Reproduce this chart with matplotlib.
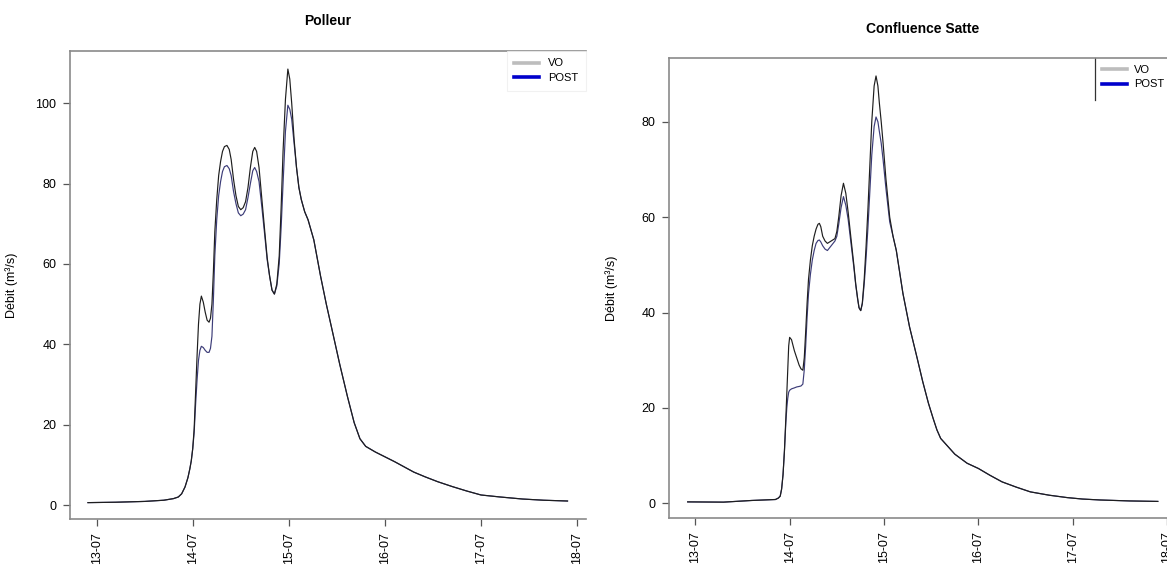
import matplotlib
matplotlib.use("Agg")
import matplotlib.pyplot as plt
from matplotlib.lines import Line2D

plt.rcParams['font.family'] = ['Liberation Sans', 'DejaVu Sans']

# days counted from 13-07 00:00
day_labels = ["13-07", "14-07", "15-07", "16-07", "17-07", "18-07"]

# --- Polleur ---
pol_days = [-0.09, 0.2, 0.5, 0.7, 0.8, 0.85, 0.885, 0.92, 0.95, 0.97, 0.985,
            1.0, 1.015, 1.03, 1.045, 1.06, 1.075, 1.09, 1.11, 1.13, 1.15, 1.17, 1.185,
            1.20, 1.215, 1.23, 1.25, 1.27, 1.29, 1.31, 1.33, 1.356, 1.38, 1.40, 1.425,
            1.45, 1.475, 1.50, 1.525, 1.55, 1.575, 1.60, 1.625, 1.645, 1.665, 1.69, 1.72,
            1.75, 1.775, 1.80, 1.825, 1.85, 1.875, 1.90, 1.92, 1.94, 1.965, 1.99, 2.01,
            2.03, 2.055, 2.08, 2.105, 2.13, 2.165, 2.20, 2.23, 2.26, 2.295, 2.33, 2.39,
            2.45, 2.53, 2.61, 2.68, 2.74, 2.8, 2.9, 3.0, 3.1, 3.2, 3.3, 3.42,
            3.55, 3.7, 3.85, 4.0, 4.2, 4.43, 4.65, 4.9]
pol_vo = [0.6, 0.7, 0.9, 1.2, 1.6, 2.0, 2.8, 4.5, 6.8, 9, 11,
          14, 19, 28, 37, 45, 50, 52, 50.5, 48, 46, 45.5, 46.5,
          50, 58, 68, 76, 82, 85.5, 88, 89.2, 89.5, 88.5, 86, 81,
          77, 74.3, 73.5, 74, 75.5, 79, 84, 88, 89, 88, 84, 76,
          68, 61.5, 57, 53.5, 52.5, 55, 62, 74, 88, 101, 108.5, 106,
          100, 91, 84, 79, 76, 73, 71, 68.5, 66, 61.5, 57, 50,
          43.6, 35, 27, 20.5, 16.5, 14.6, 13.2, 12, 10.8, 9.5, 8.2, 7,
          5.8, 4.6, 3.5, 2.5, 2.0, 1.5, 1.2, 1.0]
pol_post = [0.6, 0.7, 0.9, 1.2, 1.6, 2.0, 2.8, 4.5, 6.8, 9, 11,
            14, 18, 25, 31, 36, 38.5, 39.5, 39.2, 38.5, 38, 38, 39,
            42, 51, 62, 71, 77, 80.5, 83, 84.2, 84.5, 83.7, 82, 78,
            75, 72.7, 72, 72.4, 73.5, 76.5, 80, 83.2, 84, 83, 80.5, 74,
            67, 61, 57, 53.5, 52.5, 54.5, 60, 69, 80, 93, 99.5, 98.5,
            96, 90, 84, 79, 76, 73, 71, 68.5, 66, 61.5, 57, 50,
            43.6, 35, 27, 20.5, 16.5, 14.6, 13.2, 12, 10.8, 9.5, 8.2, 7,
            5.8, 4.6, 3.5, 2.5, 2.0, 1.5, 1.2, 1.0]

# --- Confluence Satte ---
sat_days = [-0.08, 0.3, 0.6, 0.85, 0.88, 0.9, 0.915, 0.93, 0.945, 0.96, 0.97,
            0.98, 0.99, 1.0, 1.02, 1.05, 1.075, 1.10, 1.12, 1.14, 1.155, 1.17, 1.185,
            1.20, 1.22, 1.24, 1.26, 1.28, 1.30, 1.315, 1.33, 1.35, 1.375, 1.40, 1.44,
            1.48, 1.50, 1.52, 1.545, 1.57, 1.595, 1.62, 1.65, 1.68, 1.70, 1.72, 1.735,
            1.753, 1.77, 1.79, 1.81, 1.83, 1.85, 1.87, 1.895, 1.915, 1.935, 1.95, 1.97,
            1.99, 2.02, 2.06, 2.095, 2.13, 2.165, 2.2, 2.27, 2.35, 2.41, 2.47, 2.52,
            2.56, 2.60, 2.65, 2.75, 2.88, 3.0, 3.12, 3.25, 3.4, 3.55, 3.75, 3.94,
            4.1, 4.29, 4.6, 4.9]
sat_vo = [0.3, 0.25, 0.6, 0.8, 1.1, 1.5, 3, 6, 11, 18, 23,
          28, 33, 34.8, 34.3, 32, 30.5, 29, 28.2, 27.9, 30.5, 36, 42,
          47, 51, 54, 56, 57.5, 58.5, 58.7, 58, 56, 55, 54.5, 55,
          55.5, 57, 60, 64.5, 67.1, 65, 61, 55.5, 50, 46, 43, 41,
          40.4, 42, 47, 54, 62, 71, 80, 87.5, 89.6, 87.5, 84, 80,
          75.5, 68, 60, 56, 53, 48.5, 44, 37, 30.5, 25.5, 21, 17.8,
          15.4, 13.6, 12.5, 10.3, 8.4, 7.3, 5.9, 4.5, 3.4, 2.4, 1.7, 1.2,
          0.9, 0.7, 0.5, 0.4]
sat_post = [0.3, 0.25, 0.6, 0.8, 1.1, 1.5, 3, 6, 11, 17, 20,
            22, 23.3, 23.7, 24, 24.2, 24.4, 24.5, 24.6, 25, 28, 33, 39,
            44, 48, 51, 53, 54.5, 55.1, 55.2, 54.8, 54, 53.3, 53, 54,
            55, 56, 58.5, 62, 64.3, 62.5, 59.5, 54.5, 49.5, 45.8, 42.8, 41,
            40.4, 41.8, 46, 51.5, 58, 65.5, 73, 79, 81, 80, 78, 75.5,
            72, 66, 59, 56, 53, 48.5, 44, 37, 30.5, 25.5, 21, 17.8,
            15.4, 13.6, 12.5, 10.3, 8.4, 7.3, 5.9, 4.5, 3.4, 2.4, 1.7, 1.2,
            0.9, 0.7, 0.5, 0.4]

W, H = 1167, 565
fig = plt.figure(figsize=(W / 100, H / 100), dpi=100)

def px_axes(left, right, top, bottom):
    return fig.add_axes([left / W, 1 - bottom / H, (right - left) / W, (bottom - top) / H])

ax1 = px_axes(69.6, 585.6, 50.7, 519.3)
ax2 = px_axes(668.8, 1176.7, 58.3, 518.3)

spine_col = '#8a8a8a'
for ax, days, vo, post, title, ylim, xlim in [
        (ax1, pol_days, pol_vo, pol_post, "Polleur", (-3.55, 113.07), (-0.281, 5.088)),
        (ax2, sat_days, sat_vo, sat_post, "Confluence Satte", (-3.14, 93.3), (-0.28, 5.10))]:
    ax.plot(days, post, color='#3c3c78', lw=0.85)
    ax.plot(days, vo, color='#1e1e1e', lw=0.85)
    ax.set_xlim(*xlim)
    ax.set_ylim(*ylim)
    ax.set_xticks(range(len(day_labels)))
    ax.set_xticklabels(day_labels, rotation=90)
    ax.set_yticks(range(0, int(ylim[1]) + 1, 20))
    ax.tick_params(axis='both', direction='out', length=5, width=0.9, color='#555555',
                   labelsize=9, pad=4.5)
    for s in ax.spines.values():
        s.set_color(spine_col)
        s.set_linewidth(1.2)
    ax.spines['right'].set_visible(False)
    ax.set_ylabel("Débit (m³/s)", fontsize=9)
    ax.yaxis.set_label_coords(-0.1, 0.5)
    ax.text(0.5, 1.064, title, transform=ax.transAxes, ha='center', va='center',
            fontsize=10, fontweight='bold')

handles = [Line2D([], [], color='#bdbdbd', lw=2.6), Line2D([], [], color='#0000cc', lw=2.6)]

leg1 = ax1.legend(handles, ["VO", "POST"], loc='upper right', bbox_to_anchor=(1.0, 1.0),
                  borderaxespad=0, fontsize=8, handlelength=2.2, handletextpad=0.8,
                  labelspacing=0.4, fancybox=False, borderpad=0.7)
leg1.get_frame().set_edgecolor('#eeeeee')
leg1.get_frame().set_linewidth(0.8)

ax2.legend(handles, ["VO", "POST"], loc='upper left', bbox_to_anchor=(0.840, 1.0),
           borderaxespad=0, fontsize=8, handlelength=2.2, handletextpad=0.7,
           labelspacing=0.4, frameon=False, borderpad=0.6)
ax2.add_line(Line2D([0.840, 0.840], [0.909, 1.0], transform=ax2.transAxes,
                    color='#333333', lw=0.9, clip_on=False))

fig.savefig("out.png", dpi=100)
